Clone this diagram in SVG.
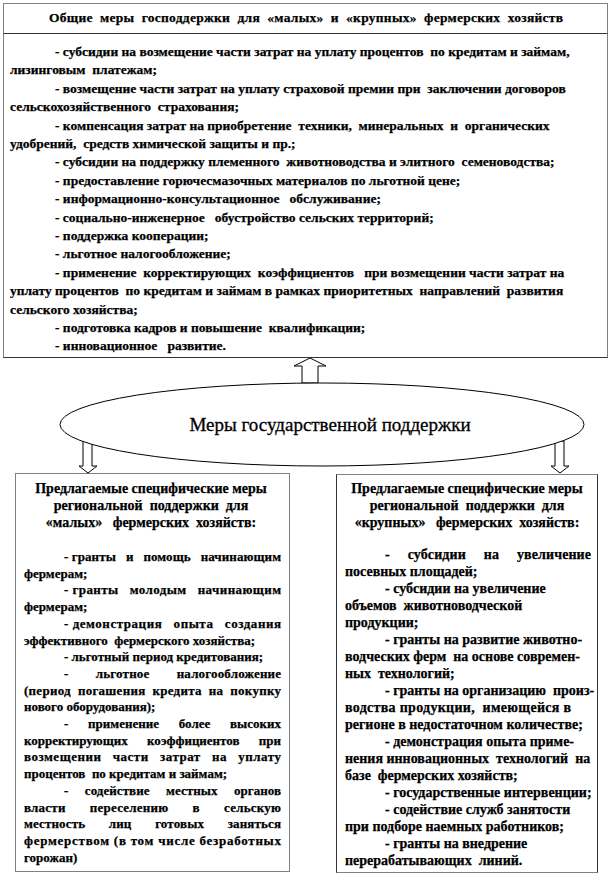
<svg xmlns="http://www.w3.org/2000/svg" width="611" height="878" viewBox="0 0 611 878" xml:space="preserve">
<style>
text { font-family: "Liberation Serif", "Times New Roman", serif; font-weight: bold; fill: #000; stroke: #000; stroke-width: 0.25px; white-space: pre; }
.t { font-size: 13.5px; }
.s { font-size: 13px; }
.r { font-size: 14px; }
.h { font-size: 14px; }
.c { text-anchor: middle; }
.e { font-size: 19px; font-weight: normal; text-anchor: middle; stroke-width: 0.3px; }
.dot { fill: #fff; stroke: #000; stroke-width: 1; stroke-dasharray: 1 1; }
.sol { fill: none; stroke: #333; stroke-width: 1; }
.arr { fill: #fff; stroke: #000; stroke-width: 1; }
.ell { fill: #fff; stroke: #000; stroke-width: 1; }
</style>
<rect x="0" y="0" width="611" height="878" fill="#fff"/>

<g id="connectors">
  <polygon class="arr" points="302,383 302,366 294,366 310,358 326,366 318,366 318,383"/>
  <polygon class="arr" points="83,441 92,441 92,466 97,466 88,473 79,466 83,466"/>
  <polygon class="arr" points="555,441 564,441 564,466 569,466 560,473 551,466 555,466"/>
</g>

<g id="general-measures">
  <rect class="dot" x="3.5" y="3.5" width="604" height="354"/>
  <line class="sol" x1="3.5" y1="357.5" x2="607.5" y2="357.5"/>
  <line class="sol" x1="3.5" y1="33.5" x2="607.5" y2="33.5" stroke="#777"/>
  <text class="t c" x="306" y="22" textLength="514">Общие  меры  господдержки  для  «малых»  и  «крупных»  фермерских  хозяйств</text>
  <text class="t" x="55" y="56">- субсидии на возмещение части затрат на уплату процентов  по кредитам и займам,</text>
  <text class="t" x="10" y="74.4">лизинговым  платежам;</text>
  <text class="t" x="55" y="92.8">- возмещение части затрат на уплату страховой премии при  заключении договоров</text>
  <text class="t" x="10" y="111.2">сельскохозяйственного  страхования;</text>
  <text class="t" x="55" y="129.6">- компенсация затрат на приобретение  техники,  минеральных  и  органических</text>
  <text class="t" x="10" y="148">удобрений,  средств химической защиты и пр.;</text>
  <text class="t" x="55" y="166.4">- субсидии на поддержку племенного  животноводства и элитного  семеноводства;</text>
  <text class="t" x="55" y="184.8">- предоставление горючесмазочных материалов по льготной цене;</text>
  <text class="t" x="55" y="203.2">- информационно-консультационное   обслуживание;</text>
  <text class="t" x="55" y="221.6">- социально-инженерное   обустройство сельских территорий;</text>
  <text class="t" x="55" y="240">- поддержка кооперации;</text>
  <text class="t" x="55" y="258.4">- льготное налогообложение;</text>
  <text class="t" x="55" y="276.8">- применение  корректирующих  коэффициентов   при возмещении части затрат на</text>
  <text class="t" x="10" y="295.2">уплату процентов  по кредитам и займам в рамках приоритетных  направлений  развития</text>
  <text class="t" x="10" y="313.6">сельского хозяйства;</text>
  <text class="t" x="55" y="332">- подготовка кадров и повышение  квалификации;</text>
  <text class="t" x="55" y="350.4">- инновационное   развитие.</text>
</g>

<g id="state-support">
  <ellipse class="ell" cx="322" cy="424.5" rx="262" ry="41.5"/>
  <text class="e" x="330" y="431">Меры государственной поддержки</text>
</g>

<g id="small-farms">
  <rect class="dot" x="15.5" y="473.5" width="274" height="398"/>
  <text class="h c" x="151" y="493">Предлагаемые специфические меры</text>
  <text class="h c" x="151" y="510">региональной  поддержки  для</text>
  <text class="h c" x="151" y="527">«малых»   фермерских  хозяйств:</text>
  <text class="s" x="64" y="561" textLength="217">- гранты   и   помощь   начинающим</text>
  <text class="s" x="24" y="577.7">фермерам;</text>
  <text class="s" x="64" y="594.4" textLength="217">- гранты   молодым   начинающим</text>
  <text class="s" x="24" y="611.1">фермерам;</text>
  <text class="s" x="64" y="627.8" textLength="217">- демонстрация   опыта   создания</text>
  <text class="s" x="24" y="644.5">эффективного  фермерского хозяйства;</text>
  <text class="s" x="64" y="661.2">- льготный период кредитования;</text>
  <text class="s" x="64" y="677.9" textLength="217">-        льготное        налогообложение</text>
  <text class="s" x="24" y="694.6" textLength="257">(период  погашения  кредита  на  покупку</text>
  <text class="s" x="24" y="711.3">нового оборудования);</text>
  <text class="s" x="64" y="728" textLength="217">-      применение      более      высоких</text>
  <text class="s" x="24" y="744.7" textLength="257">корректирующих      коэффициентов      при</text>
  <text class="s" x="24" y="761.4" textLength="257">возмещении   части   затрат   на   уплату</text>
  <text class="s" x="24" y="778.1">процентов  по кредитам и займам;</text>
  <text class="s" x="64" y="794.8" textLength="217">-     содействие     местных     органов</text>
  <text class="s" x="24" y="811.5" textLength="257">власти       переселению       в       сельскую</text>
  <text class="s" x="24" y="828.2" textLength="257">местность       лиц       готовых       заняться</text>
  <text class="s" x="24" y="844.9" textLength="257">фермерством (в том числе безработных</text>
  <text class="s" x="24" y="861.6">горожан)</text>
</g>

<g id="large-farms">
  <rect class="dot" x="336.5" y="474.5" width="261" height="398"/>
  <line class="sol" x1="336.5" y1="474.5" x2="336.5" y2="872.5"/>
  <line class="sol" x1="597.5" y1="474.5" x2="597.5" y2="872.5"/>
  <text class="h c" x="467" y="493">Предлагаемые специфические меры</text>
  <text class="h c" x="467" y="510">региональной  поддержки  для</text>
  <text class="h c" x="467" y="527">«крупных»   фермерских  хозяйств:</text>
  <text class="r" x="385" y="559" textLength="206">-     субсидии     на     увеличение</text>
  <text class="r" x="345" y="576">посевных площадей;</text>
  <text class="r" x="385" y="593">- субсидии на увеличение</text>
  <text class="r" x="345" y="610">объемов  животноводческой</text>
  <text class="r" x="345" y="627">продукции;</text>
  <text class="r" x="385" y="644">- гранты на развитие животно-</text>
  <text class="r" x="345" y="661">водческих ферм  на основе современ-</text>
  <text class="r" x="345" y="678">ных  технологий;</text>
  <text class="r" x="385" y="695">- гранты на организацию  произ-</text>
  <text class="r" x="345" y="712" textLength="226">водства продукции,  имеющейся в</text>
  <text class="r" x="345" y="729">регионе в недостаточном количестве;</text>
  <text class="r" x="385" y="746">- демонстрация опыта приме-</text>
  <text class="r" x="345" y="763">нения инновационных  технологий  на</text>
  <text class="r" x="345" y="780">базе  фермерских хозяйств;</text>
  <text class="r" x="385" y="797">- государственные интервенции;</text>
  <text class="r" x="385" y="814">- содействие служб занятости</text>
  <text class="r" x="345" y="831">при подборе наемных работников;</text>
  <text class="r" x="385" y="848">- гранты на внедрение</text>
  <text class="r" x="345" y="865">перерабатывающих  линий.</text>
</g>
</svg>
